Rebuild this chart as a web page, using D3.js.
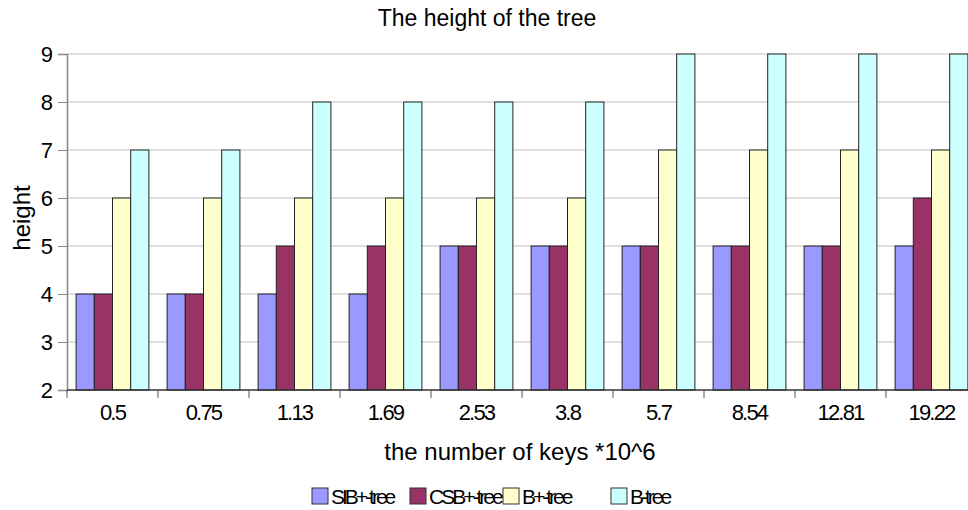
<!DOCTYPE html>
<html>
<head>
<meta charset="utf-8">
<script src="https://cdn.jsdelivr.net/npm/d3@7"></script>
<style>
  body { margin: 0; background: #fff; }
  svg { display: block; font-family: "Liberation Sans", Arial, sans-serif; }
</style>
</head>
<body>
<svg id="chart" width="968" height="510"></svg>
<script>
// Key counts (millions) on the x axis
const categories = ["0.5", "0.75", "1.13", "1.69", "2.53", "3.8", "5.7", "8.54", "12.81", "19.22"];
const seriesNames = ["SIB+-tree", "CSB+-tree", "B+-tree", "B-tree"];
const sibValues = [4, 4, 4, 4, 5, 5, 5, 5, 5, 5];
const csbValues = [4, 4, 5, 5, 5, 5, 5, 5, 5, 6];
const bplusValues = [6, 6, 6, 6, 6, 6, 7, 7, 7, 7];
const bValues = [7, 7, 8, 8, 8, 8, 9, 9, 9, 9];
const yTicks = [2, 3, 4, 5, 6, 7, 8, 9];
const colors = ["#9999ff", "#993366", "#ffffcc", "#ccffff"];

const seriesValues = [sibValues, csbValues, bplusValues, bValues];

const svg = d3.select("#chart");
const plotLeft = 67, plotTop = 54, plotBottom = 390, plotRight = 977;

const x0 = d3.scaleBand().domain(categories).range([plotLeft, plotRight]).padding(0);
const x1 = d3.scaleBand().domain(seriesNames).range([0, x0.bandwidth()])
  .paddingInner(0).paddingOuter(0.5);
const y = d3.scaleLinear().domain([2, 9]).range([plotBottom, plotTop]);

// horizontal gridlines
svg.append("g").selectAll("line").data(yTicks.filter(t => t > 2)).join("line")
  .attr("x1", plotLeft).attr("x2", plotRight)
  .attr("y1", d => y(d)).attr("y2", d => y(d))
  .attr("stroke", "#d4d4d4").attr("stroke-width", 1.5);

// bars
const groups = svg.append("g").selectAll("g").data(categories).join("g")
  .attr("transform", d => `translate(${x0(d)},0)`);
groups.selectAll("rect")
  .data((c, i) => seriesNames.map((s, k) => ({ s, k, v: seriesValues[k][i] })))
  .join("rect")
  .attr("x", d => x1(d.s))
  .attr("width", x1.bandwidth())
  .attr("y", d => y(d.v))
  .attr("height", d => y(2) - y(d.v))
  .attr("fill", d => colors[d.k])
  .attr("stroke", "#222")
  .attr("stroke-width", 1);

// y axis
const yAxis = svg.append("g").attr("transform", `translate(${plotLeft},0)`)
  .call(d3.axisLeft(y).tickValues(yTicks).tickSize(9).tickPadding(5).tickFormat(d3.format("d")));
yAxis.select(".domain").attr("stroke", "#888").attr("stroke-width", 1.5);
yAxis.selectAll(".tick line").attr("stroke", "#888");
yAxis.selectAll(".tick text").attr("font-size", 22).attr("fill", "#000")
  .attr("font-family", "Liberation Sans, Arial, sans-serif");

// x axis: ticks sit on category boundaries
const xAxisG = svg.append("g");
xAxisG.append("line").attr("x1", plotLeft).attr("x2", plotRight)
  .attr("y1", plotBottom).attr("y2", plotBottom).attr("stroke", "#333").attr("stroke-width", 1.5);
xAxisG.selectAll("line.tk").data(categories).join("line").attr("class", "tk")
  .attr("x1", d => x0(d)).attr("x2", d => x0(d))
  .attr("y1", plotBottom).attr("y2", plotBottom + 8).attr("stroke", "#555");
xAxisG.selectAll("text").data(categories).join("text")
  .attr("x", d => x0(d) + x0.bandwidth() / 2)
  .attr("y", 420)
  .attr("text-anchor", "middle")
  .attr("font-size", 22)
  .attr("letter-spacing", -1.8)
  .text(d => d);

// titles
svg.append("text").attr("x", 487).attr("y", 26).attr("text-anchor", "middle")
  .attr("font-size", 23).text("The height of the tree");
svg.append("text").attr("x", 520).attr("y", 460).attr("text-anchor", "middle")
  .attr("font-size", 24).text("the number of keys *10^6");
svg.append("text").attr("transform", "translate(30,218) rotate(-90)")
  .attr("text-anchor", "middle").attr("font-size", 24).text("height");

// legend
const legendX = [312, 410, 503, 611];
const leg = svg.append("g").selectAll("g").data(seriesNames).join("g")
  .attr("transform", (d, i) => `translate(${legendX[i]},488)`);
leg.append("rect").attr("width", 16).attr("height", 16)
  .attr("fill", (d, i) => colors[i]).attr("stroke", "#333");
leg.append("text").attr("x", 19).attr("y", 16).attr("font-size", 21)
  .attr("letter-spacing", -3).text(d => d);
</script>
</body>
</html>
